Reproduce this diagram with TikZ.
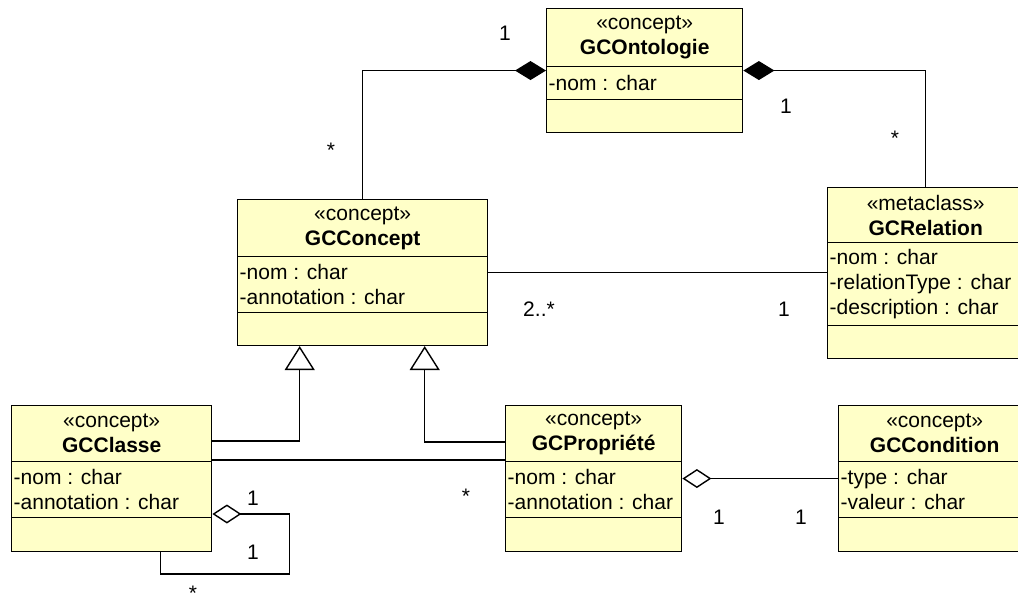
\documentclass[tikz,border=0pt]{standalone}
\usepackage{fontspec}
\setmainfont{Liberation Sans}
\usepackage{tikz}
\usetikzlibrary{arrows.meta,shapes.multipart}
\definecolor{classfill}{RGB}{255,255,200}
\newcommand{\chead}[4]{\parbox[c][#2][c]{#1}{\centering «#3»\\\textbf{#4}}}
\newcommand{\cattr}[3]{\parbox[c][#2][c]{#1}{\raggedright\leftskip=2pt #3}}
\newcommand{\cops}[2]{\parbox[c][#2][c]{#1}{\mbox{}}}
\newcommand{\mstar}{\smash{\raisebox{-12pt}{*}}}

\begin{document}
\begin{tikzpicture}[x=1pt,y=-1pt,line width=1.4pt,
    every node/.style={font=\fontsize{21}{25}\selectfont},
    classbox/.style={rectangle split,rectangle split parts=3,draw,fill=classfill,
      inner sep=0pt,anchor=north west},
    starlabel/.style={inner sep=0pt,text height=4pt,text depth=4pt},
    assoc/.style={-},
    compos/.style={{Diamond[length=31pt,width=19pt]}-},
    aggreg/.style={{Diamond[open,length=29pt,width=19pt]}-},
    inherit/.style={-{Triangle[open,length=24pt,width=30pt]}}]
    \clip (0,0) rectangle (1018,596);
    % classes
    \node[classbox] (onto) at (546,8) {\chead{196pt}{56.5pt}{concept}{GCOntologie}
      \nodepart{two}\cattr{196pt}{31.5pt}{-nom : char}
      \nodepart{three}\cops{196pt}{31.5pt}};
    \node[classbox] (concept) at (237,199) {\chead{250pt}{55.5pt}{concept}{GCConcept}
      \nodepart{two}\cattr{250pt}{54.5pt}{-nom : char\\-annotation : char}
      \nodepart{three}\cops{250pt}{31.5pt}};
    \node[classbox] (relation) at (827,187) {\chead{196pt}{53.5pt}{metaclass}{GCRelation}
      \nodepart{two}\cattr{196pt}{81.5pt}{-nom : char\\-relationType : char\\-description : char}
      \nodepart{three}\cops{196pt}{31.5pt}};
    \node[classbox] (classe) at (11,405) {\chead{200pt}{54.5pt}{concept}{GCClasse}
      \nodepart{two}\cattr{200pt}{54.5pt}{-nom : char\\-annotation : char}
      \nodepart{three}\cops{200pt}{32.5pt}};
    \node[classbox] (propriete) at (505,405) {\chead{176pt}{54.5pt}{concept}{GCPropriété}
      \nodepart{two}\cattr{176pt}{54.5pt}{-nom : char\\-annotation : char}
      \nodepart{three}\cops{176pt}{32.5pt}};
    \node[classbox] (condition) at (838,405) {\chead{192pt}{54.5pt}{concept}{GCCondition}
      \nodepart{two}\cattr{192pt}{54.5pt}{-type : char\\-valeur : char}
      \nodepart{three}\cops{192pt}{32.5pt}};
    % links
    \draw[compos] (onto.west) -| (concept.north);
    \draw[compos] (onto.east) -| (relation.north);
    \draw[assoc] (concept.east) -- (concept.east -| relation.west);
    \draw[inherit] ([yshift=-36pt]classe.north east) -| ([xshift=-63pt]concept.south);
    \draw[inherit] ([yshift=-37pt]propriete.north west) -| ([xshift=62pt]concept.south);
    \draw[assoc] ([yshift=-55pt]classe.north east) -- ([yshift=-55pt]propriete.north west);
    \draw[aggreg] (propriete.east) -- (condition.west);
    \draw[aggreg] ([yshift=-109pt]classe.north east) -- ++(77,0)
      |- ([xshift=49pt,yshift=-22pt]classe.south) -- ([xshift=49pt]classe.south);
    % multiplicities
    \node (m_onto_concept) at (505,33) {1};
    \node[starlabel] (m_concept_onto) at (331,146) {\mstar};
    \node (m_onto_relation) at (786,106) {1};
    \node[starlabel] (m_relation_onto) at (895,134) {\mstar};
    \node (m_concept_relation) at (539,309) {2..*};
    \node (m_relation_concept) at (784,309) {1};
    \node[starlabel] (m_classe_propriete) at (466,491) {\mstar};
    \node (m_propriete_condition) at (719,517) {1};
    \node (m_condition_propriete) at (801,517) {1};
    \node (m_classe_whole) at (253,498) {1};
    \node (m_classe_part) at (253,552) {1};
    \node[starlabel] (m_classe_self) at (193,588) {\mstar};
\end{tikzpicture}
\end{document}
